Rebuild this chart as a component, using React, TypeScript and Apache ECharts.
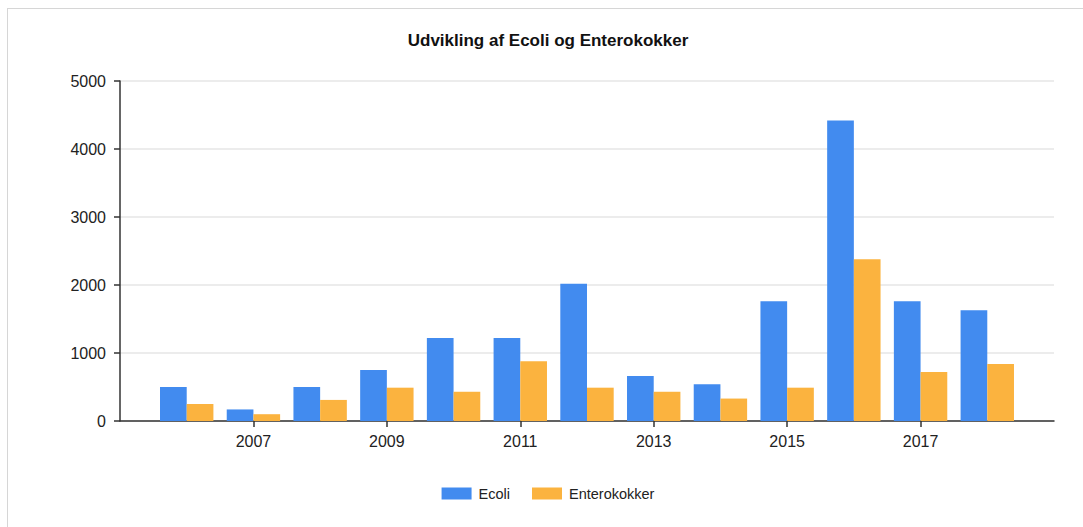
import React, { useEffect, useRef } from "react";
import * as echarts from "echarts";

const title = "Udvikling af Ecoli og Enterokokker";
const years = [2006, 2007, 2008, 2009, 2010, 2011, 2012, 2013, 2014, 2015, 2016, 2017, 2018];
const ecoli = [500, 170, 500, 750, 1220, 1220, 2020, 660, 540, 1760, 4420, 1760, 1630];
const entero = [250, 100, 310, 490, 430, 880, 490, 430, 330, 490, 2380, 720, 840];
const seriesNames = ["Ecoli", "Enterokokker"];
const xMin = 2005;
const xMax = 2019;
const yMax = 5000;

export default function App() {
  const ref = useRef<HTMLDivElement>(null);
  useEffect(() => {
    if (!ref.current) return;
    const chart = echarts.init(ref.current, undefined, { renderer: "svg" });
    const font = "Arial, 'Liberation Sans', sans-serif";
    chart.setOption({
      animation: false,
      title: {
        text: title,
        left: "center",
        top: 19,
        textStyle: { fontFamily: font, fontSize: 17, fontWeight: "bold", color: "#111" },
      },
      legend: {
        data: seriesNames,
        bottom: 21,
        left: "center",
        icon: "rect",
        itemWidth: 30,
        itemHeight: 12,
        itemGap: 22,
        textStyle: { fontFamily: font, fontSize: 14.5, color: "#222", padding: [0, 0, 0, 2] },
      },
      grid: { left: 112, right: 34, top: 73, bottom: 106, containLabel: false },
      xAxis: {
        type: "value",
        min: xMin,
        max: xMax,
        interval: 2,
        axisLine: { lineStyle: { color: "#333", width: 1.5 } },
        axisTick: { show: true, length: 6, lineStyle: { color: "#333", width: 1.5 } },
        axisLabel: {
          showMinLabel: false,
          showMaxLabel: false,
          formatter: (v: number) => String(v),
          fontFamily: font,
          fontSize: 16,
          color: "#222",
          margin: 12,
        },
        splitLine: { show: false },
      },
      yAxis: {
        type: "value",
        min: 0,
        max: yMax,
        interval: 1000,
        axisLine: { show: true, lineStyle: { color: "#333", width: 1.5 } },
        axisTick: { show: true, length: 6, lineStyle: { color: "#333", width: 1.5 } },
        axisLabel: {
          formatter: (v: number) => String(v),
          fontFamily: font,
          fontSize: 16,
          color: "#222",
          margin: 14,
        },
        splitLine: { show: true, lineStyle: { color: "#e6e6e6", width: 1.5 } },
      },
      series: [
        {
          name: seriesNames[0],
          type: "bar",
          data: years.map((y, i) => [y, ecoli[i]]),
          barWidth: 26.7,
          barGap: "0%",
          itemStyle: { color: "#428bef" },
        },
        {
          name: seriesNames[1],
          type: "bar",
          data: years.map((y, i) => [y, entero[i]]),
          barWidth: 26.7,
          barGap: "0%",
          itemStyle: { color: "#fbb33f" },
        },
      ],
    });
    return () => chart.dispose();
  }, []);
  return (
    <div style={{ position: "fixed", left: 0, top: 0, width: 1083, height: 527, overflow: "hidden", background: "#fff" }}>
      <div
        style={{
          position: "absolute",
          left: 7,
          top: 8,
          width: 1200,
          height: 700,
          border: "1px solid #d6d6d6",
        }}
      />
      <div ref={ref} style={{ position: "absolute", left: 8, top: 8, width: 1080, height: 519 }} />
    </div>
  );
}
